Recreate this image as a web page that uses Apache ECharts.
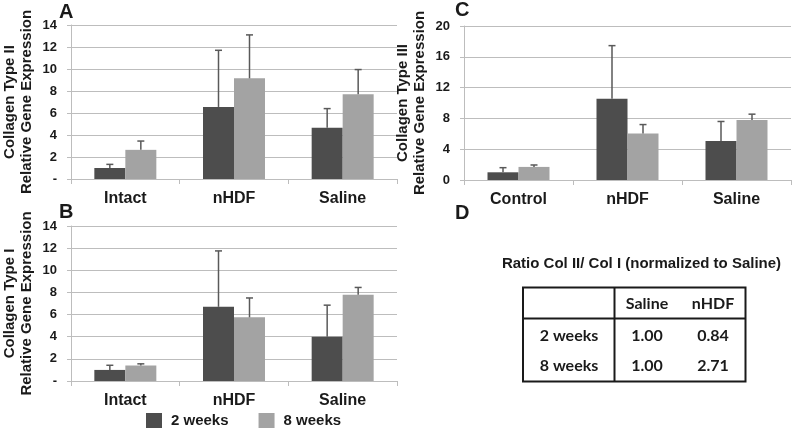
<!DOCTYPE html>
<html><head><meta charset="utf-8">
<script src="https://cdn.jsdelivr.net/npm/echarts@6/dist/echarts.min.js"></script>
<style>html,body{margin:0;padding:0;background:#fff}#c{width:800px;height:433px}</style>
</head><body><div id="c"></div>
<script>
// ---- data ----
const catsAB = ['Intact', 'nHDF', 'Saline'];
const catsC = ['Control', 'nHDF', 'Saline'];
const seriesNames = ['2 weeks', '8 weeks'];
// Panel A: Collagen Type II
const colII_2w = [1.0, 6.55, 4.65];
const colII_2w_err = [0.33, 5.15, 1.75];
const colII_8w = [2.65, 9.15, 7.7];
const colII_8w_err = [0.8, 3.95, 2.25];
// Panel B: Collagen Type I
const colI_2w = [1.0, 6.7, 4.0];
const colI_2w_err = [0.42, 5.05, 2.85];
const colI_8w = [1.4, 5.75, 7.8];
const colI_8w_err = [0.15, 1.75, 0.65];
// Panel C: Collagen Type III
const colIII_2w = [1.0, 10.55, 5.05];
const colIII_2w_err = [0.6, 6.9, 2.55];
const colIII_8w = [1.7, 6.05, 7.8];
const colIII_8w_err = [0.25, 1.15, 0.75];
// Panel D: table
const tableTitle = 'Ratio Col II/ Col I (normalized to Saline)';
const tableCols = ['Saline', 'nHDF'];
const tableRows = ['2 weeks', '8 weeks'];
const tableVals = [['1.00', '0.84'], ['1.00', '2.71']];
// ticks
const ticksAB = {min: 0, max: 14, interval: 2};
const ticksC = {min: 0, max: 20, interval: 4};

const FONT = '"Liberation Sans", Arial, sans-serif';
const TXT = '#1a1a1a';
const DARK = '#4d4d4d', LIGHT = '#a3a3a3';
const AXC = '#bdbdbd';
const BW = 31;

const chart = echarts.init(document.getElementById('c'), null, {renderer: 'canvas'});

function xAx(gi, cats) {
  return {
    type: 'category', gridIndex: gi, data: cats,
    axisLine: {lineStyle: {color: AXC, width: 1}},
    axisTick: {show: true, length: 5, lineStyle: {color: AXC}},
    axisLabel: {color: TXT, fontFamily: FONT, fontWeight: 'bold', fontSize: 16, margin: 12}
  };
}
function yAx(gi, t, nm, dashZero) {
  return {
    type: 'value', gridIndex: gi, min: t.min, max: t.max, interval: t.interval,
    name: nm, nameLocation: 'middle', nameRotate: 90, nameGap: 36,
    nameTextStyle: {color: TXT, fontFamily: FONT, fontWeight: 'bold', fontSize: 15, lineHeight: 17},
    axisLine: {show: true, lineStyle: {color: AXC}},
    axisTick: {show: true, length: 4, lineStyle: {color: AXC}},
    splitLine: {lineStyle: {color: AXC}},
    axisLabel: {color: TXT, fontFamily: FONT, fontWeight: 'bold', fontSize: 13, margin: 14,
      formatter: v => (dashZero && v === 0) ? '-' : String(v)}
  };
}
function bar(gi, name, vals, color) {
  return {type: 'bar', name, xAxisIndex: gi, yAxisIndex: gi, data: vals, barWidth: BW, barGap: '0%',
    itemStyle: {color}, z: 2};
}
function err(gi, vals, errs, off) {
  return {
    type: 'custom', xAxisIndex: gi, yAxisIndex: gi, silent: true, z: 5,
    data: vals.map((v, i) => [i, v, v + errs[i]]),
    renderItem: (params, api) => {
      const p0 = api.coord([api.value(0), api.value(1)]);
      const p1 = api.coord([api.value(0), api.value(2)]);
      const x = p0[0] + off;
      const st = {stroke: '#595959', lineWidth: 1.5};
      return {type: 'group', children: [
        {type: 'line', shape: {x1: x, y1: p0[1], x2: x, y2: p1[1]}, style: st},
        {type: 'line', shape: {x1: x - 3.5, y1: p1[1], x2: x + 3.5, y2: p1[1]}, style: st}
      ]};
    }
  };
}
function txt(x, y, s, size, opts) {
  return Object.assign({type: 'text', x, y, style: Object.assign({text: s, fill: TXT,
    font: 'bold ' + size + 'px ' + FONT}, opts || {})});
}
const CAL = 'Lato, "Open Sans", sans-serif';
function ctext(x, y, s) {
  return {type: 'text', x, y, style: {text: s, fill: TXT, font: 'bold 16px ' + CAL, textAlign: 'center', textVerticalAlign: 'middle'}};
}

// table geometry
const tL = 523, tR = 745.5, tT = 287.5, tB = 381.5, tDiv = 614.5, tHead = 318.5;
const colX = [647, 713], rowY = [335.5, 365.5], headY = 304;
const tableGraphics = [
  {type: 'text', x: 641.5, y: 264, style: {text: tableTitle, fill: TXT, font: 'bold 15px ' + FONT, textAlign: 'center', textVerticalAlign: 'middle'}},
  {type: 'rect', shape: {x: tL, y: tT, width: tR - tL, height: tB - tT}, style: {fill: 'none', stroke: '#1a1a1a', lineWidth: 2}},
  {type: 'line', shape: {x1: tDiv, y1: tT, x2: tDiv, y2: tB}, style: {stroke: '#1a1a1a', lineWidth: 2}},
  {type: 'line', shape: {x1: tL, y1: tHead, x2: tR, y2: tHead}, style: {stroke: '#1a1a1a', lineWidth: 2}}
];
tableCols.forEach((c, j) => tableGraphics.push(ctext(colX[j], headY, c)));
tableRows.forEach((r, i) => {
  tableGraphics.push(ctext(569, rowY[i], r));
  tableVals[i].forEach((v, j) => tableGraphics.push(ctext(colX[j], rowY[i], v)));
});

chart.setOption({
  animation: false,
  grid: [
    {left: 70, top: 25, width: 327, height: 154},
    {left: 70, top: 226, width: 327, height: 155},
    {left: 464, top: 26, width: 327, height: 154}
  ],
  xAxis: [xAx(0, catsAB), xAx(1, catsAB), xAx(2, catsC)],
  yAxis: [
    yAx(0, ticksAB, 'Collagen Type II\nRelative Gene Expression', true),
    yAx(1, ticksAB, 'Collagen Type I\nRelative Gene Expression', true),
    yAx(2, ticksC, 'Collagen Type III\nRelative Gene Expression', false)
  ],
  legend: {
    data: seriesNames, left: 146, top: 413, itemWidth: 16, itemHeight: 15, itemGap: 30, padding: 0,
    icon: 'rect',
    textStyle: {color: TXT, fontFamily: FONT, fontWeight: 'bold', fontSize: 15, padding: [0, 0, 0, 4]}
  },
  series: [
    bar(0, seriesNames[0], colII_2w, DARK), bar(0, seriesNames[1], colII_8w, LIGHT),
    err(0, colII_2w, colII_2w_err, -BW / 2), err(0, colII_8w, colII_8w_err, BW / 2),
    bar(1, seriesNames[0], colI_2w, DARK), bar(1, seriesNames[1], colI_8w, LIGHT),
    err(1, colI_2w, colI_2w_err, -BW / 2), err(1, colI_8w, colI_8w_err, BW / 2),
    bar(2, seriesNames[0], colIII_2w, DARK), bar(2, seriesNames[1], colIII_8w, LIGHT),
    err(2, colIII_2w, colIII_2w_err, -BW / 2), err(2, colIII_8w, colIII_8w_err, BW / 2)
  ],
  graphic: [
    txt(59, 2, 'A', 20), txt(59, 202, 'B', 20), txt(455, 0, 'C', 20), txt(455, 203, 'D', 20)
  ].concat(tableGraphics)
});
</script></body></html>
